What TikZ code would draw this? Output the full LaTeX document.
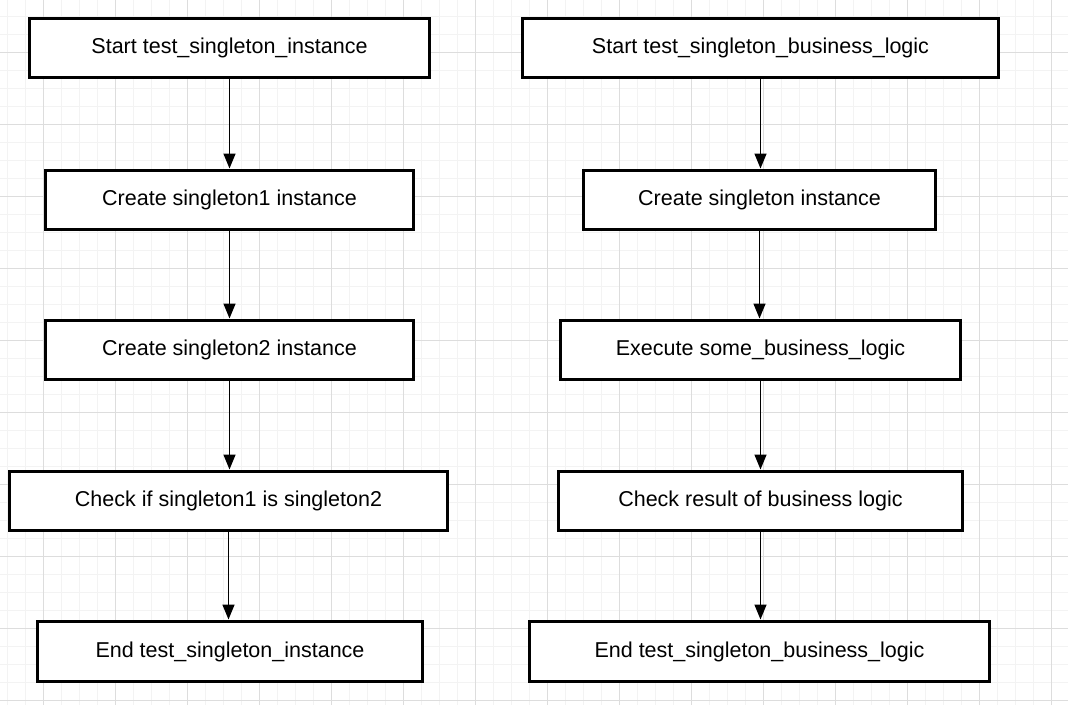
\documentclass[tikz,border=0pt]{standalone}
\usepackage{fontspec}
\setmainfont{Liberation Sans}
\usetikzlibrary{arrows.meta,positioning}
\definecolor{minorgrid}{HTML}{F3F3F3}
\definecolor{majorgrid}{HTML}{DDDDDD}

\begin{document}
\begin{tikzpicture}[x=1pt,y=-1pt,stepbox/.style={draw=black,fill=white,line width=3pt,inner sep=0pt,minimum height=59pt,text height=15pt,text depth=3pt,font=\fontsize{21.5}{25}\selectfont},flow/.style={-{Triangle[length=15pt,width=12pt]},line width=1.5pt},minor/.style={minorgrid,line width=1pt},major/.style={majorgrid,line width=1pt}]
 \useasboundingbox (0,0) rectangle (1068,705);
 \fill[white] (0,0) rectangle (1068,705);
 \foreach \x in {7,25,...,1068}{\draw[minor] (\x,0)--(\x,705);}
 \foreach \y in {16,34,...,705}{\draw[minor] (0,\y)--(1068,\y);}
 \foreach \x in {43,115,...,1068}{\draw[major] (\x,0)--(\x,705);}
 \foreach \y in {52,124,...,705}{\draw[major] (0,\y)--(1068,\y);}
 % left column
 \node[stepbox,minimum width=400pt] (si) at (229.5,47.5) {Start test\_singleton\_instance};
 \node[stepbox,minimum width=368pt] (c1) at (229.5,199.5) {Create singleton1 instance};
 \node[stepbox,minimum width=368pt] (c2) at (229.5,349.5) {Create singleton2 instance};
 \node[stepbox,minimum width=438pt] (ck) at (228.5,500.5) {Check if singleton1 is singleton2};
 \node[stepbox,minimum width=385pt,minimum height=60pt] (ei) at (230,651) {End test\_singleton\_instance};
 % right column
 \node[stepbox,minimum width=476pt] (sb) at (760.5,47.5) {Start test\_singleton\_business\_logic};
 \node[stepbox,minimum width=352pt] (cs) at (759.5,199.5) {Create singleton instance};
 \node[stepbox,minimum width=400pt] (ex) at (760.5,349.5) {Execute some\_business\_logic};
 \node[stepbox,minimum width=404pt] (cr) at (760.5,500.5) {Check result of business logic};
 \node[stepbox,minimum width=460pt,minimum height=60pt] (eb) at (759.5,651) {End test\_singleton\_business\_logic};
 \foreach \a/\b in {si/c1,c1/c2,c2/ck,ck/ei,sb/cs,cs/ex,ex/cr,cr/eb}{\draw[flow] (\a.south)--(\a.south |- \b.north);}
\end{tikzpicture}
\end{document}
